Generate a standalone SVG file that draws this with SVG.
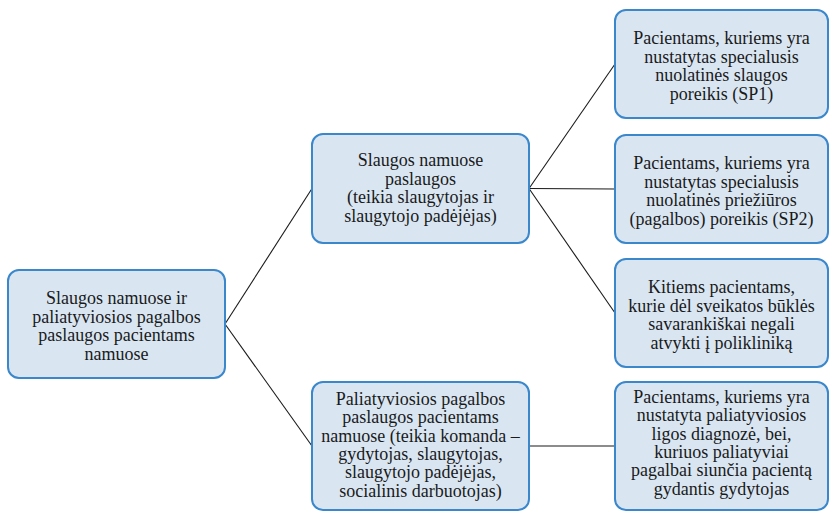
<svg xmlns="http://www.w3.org/2000/svg" width="830" height="511" viewBox="0 0 830 511">
<style>
.box{fill:#d9e6f2;stroke:#3a87cc;stroke-width:2}
.t{font-family:'Liberation Serif','Times New Roman',serif;font-size:18px;fill:#1a1a1a;text-anchor:middle}
.c{stroke:#1a1a1a;stroke-width:1.1;fill:none}
</style>
<rect width="830" height="511" fill="#ffffff"/>
<g id="connectors">
<line class="c" x1="225" y1="324" x2="312" y2="188.5"/>
<line class="c" x1="225" y1="324" x2="312" y2="446"/>
<line class="c" x1="529" y1="188.5" x2="615" y2="64"/>
<line class="c" x1="529" y1="188.5" x2="615" y2="189"/>
<line class="c" x1="529" y1="188.5" x2="615" y2="313"/>
<line class="c" x1="529" y1="446" x2="615" y2="446"/>
</g>
<g id="root">
<rect class="box" x="8" y="270" width="217" height="108" rx="11"/>
<text class="t" x="116.5" y="304">Slaugos namuose ir<tspan x="116.5" dy="18.5">paliatyviosios pagalbos</tspan><tspan x="116.5" dy="18.5">paslaugos pacientams</tspan><tspan x="116.5" dy="18.5">namuose</tspan></text>
</g>
<g id="home-nursing">
<rect class="box" x="312" y="134" width="217" height="109" rx="11"/>
<text class="t" x="420.5" y="166">Slaugos namuose<tspan x="420.5" dy="18.5">paslaugos</tspan><tspan x="420.5" dy="18.5">(teikia slaugytojas ir</tspan><tspan x="420.5" dy="18.5">slaugytojo padėjėjas)</tspan></text>
</g>
<g id="palliative">
<rect class="box" x="312" y="382" width="217" height="128" rx="11"/>
<text class="t" x="420.5" y="405">Paliatyviosios pagalbos<tspan x="420.5" dy="18.3">paslaugos pacientams</tspan><tspan x="420.5" dy="18.3">namuose (teikia komanda –</tspan><tspan x="420.5" dy="18.3">gydytojas, slaugytojas,</tspan><tspan x="420.5" dy="18.3">slaugytojo padėjėjas,</tspan><tspan x="420.5" dy="18.3">socialinis darbuotojas)</tspan></text>
</g>
<g id="sp1">
<rect class="box" x="615" y="10" width="213" height="108" rx="11"/>
<text class="t" x="721.5" y="44">Pacientams, kuriems yra<tspan x="721.5" dy="18.5">nustatytas specialusis</tspan><tspan x="721.5" dy="18.5">nuolatinės slaugos</tspan><tspan x="721.5" dy="18.5">poreikis (SP1)</tspan></text>
</g>
<g id="sp2">
<rect class="box" x="615" y="135" width="213" height="108" rx="11"/>
<text class="t" x="721.5" y="169">Pacientams, kuriems yra<tspan x="721.5" dy="18.5">nustatytas specialusis</tspan><tspan x="721.5" dy="18.5">nuolatinės priežiūros</tspan><tspan x="721.5" dy="18.5">(pagalbos) poreikis (SP2)</tspan></text>
</g>
<g id="other">
<rect class="box" x="615" y="259" width="213" height="108" rx="11"/>
<text class="t" x="721.5" y="293">Kitiems pacientams,<tspan x="721.5" dy="18.5">kurie dėl sveikatos būklės</tspan><tspan x="721.5" dy="18.5">savarankiškai negali</tspan><tspan x="721.5" dy="18.5">atvykti į polikliniką</tspan></text>
</g>
<g id="palliative-patients">
<rect class="box" x="615" y="382" width="213" height="128" rx="11"/>
<text class="t" x="721.5" y="403">Pacientams, kuriems yra<tspan x="721.5" dy="18.3">nustatyta  paliatyviosios</tspan><tspan x="721.5" dy="18.3">ligos diagnozė, bei,</tspan><tspan x="721.5" dy="18.3">kuriuos paliatyviai</tspan><tspan x="721.5" dy="18.3">pagalbai siunčia pacientą</tspan><tspan x="721.5" dy="18.3">gydantis gydytojas</tspan></text>
</g>
</svg>
